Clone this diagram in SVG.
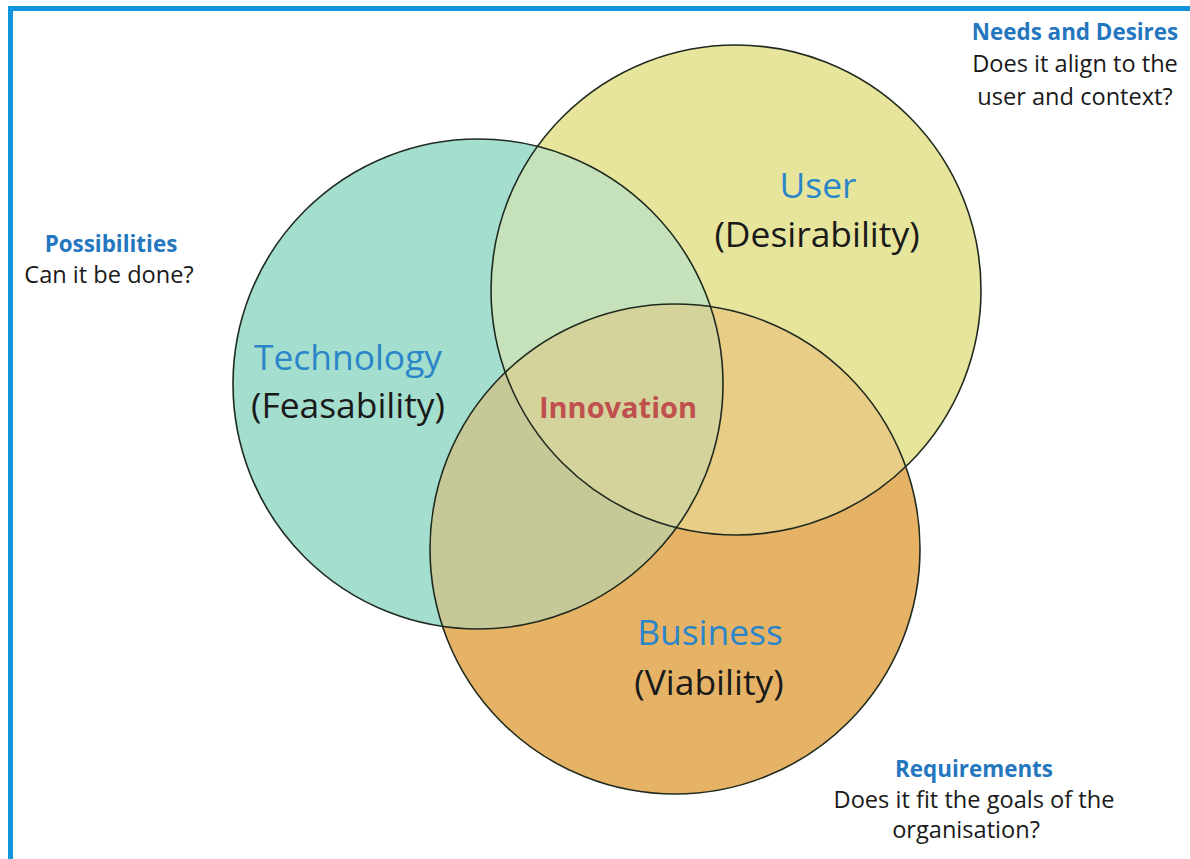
<svg xmlns="http://www.w3.org/2000/svg" width="1190" height="859" viewBox="0 0 1190 859">
  <style>
    .lbl { font-family: "Open Sans", "Liberation Sans", sans-serif; text-anchor: middle; }
    .head { font-size: 22.4px; font-weight: bold; fill: #2477bf; }
    .note { font-size: 23.6px; fill: #1a1a1a; }
    .title { font-size: 35.4px; fill: #2a86c8; }
    .sub { font-size: 35.4px; fill: #1a1a1a; }
    .core { font-size: 29px; font-weight: bold; fill: #c0504d; }
    .ring { fill: none; stroke: #1f2a1f; stroke-width: 1.6; }
  </style>
  <defs>
    <circle id="cT" cx="478" cy="384" r="245"/>
    <circle id="cU" cx="736" cy="290" r="245"/>
    <circle id="cB" cx="675" cy="549" r="245"/>
    <clipPath id="inT"><use href="#cT"/></clipPath>
    <clipPath id="inU"><use href="#cU"/></clipPath>
  </defs>

  <rect width="1190" height="859" fill="#ffffff"/>

  <!-- frame lines along top and left -->
  <rect x="8" y="6" width="1182" height="5" fill="#1094dc"/>
  <rect x="8" y="6" width="5" height="853" fill="#1094dc"/>

  <!-- region fills -->
  <g id="fills">
    <use href="#cT" fill="#a4decf"/>
    <use href="#cU" fill="#e7e59c"/>
    <use href="#cB" fill="#e6b366"/>
    <use href="#cU" fill="#c6e2bb" clip-path="url(#inT)"/>
    <use href="#cB" fill="#c7c898" clip-path="url(#inT)"/>
    <use href="#cB" fill="#e8cd86" clip-path="url(#inU)"/>
    <g clip-path="url(#inU)">
      <use href="#cB" fill="#d5d39c" clip-path="url(#inT)"/>
    </g>
  </g>

  <g id="technology">
    <use href="#cT" class="ring"/>
    <text class="lbl title" x="348" y="370">Technology</text>
    <text class="lbl sub" x="348" y="418">(Feasability)</text>
  </g>

  <g id="user">
    <use href="#cU" class="ring"/>
    <text class="lbl title" x="818" y="198">User</text>
    <text class="lbl sub" x="817" y="247">(Desirability)</text>
  </g>

  <g id="business">
    <use href="#cB" class="ring"/>
    <text class="lbl title" x="710" y="645">Business</text>
    <text class="lbl sub" x="709" y="695">(Viability)</text>
  </g>

  <g id="innovation">
    <text class="lbl core" x="618" y="418">Innovation</text>
  </g>

  <g id="possibilities">
    <text class="lbl head" x="111" y="252">Possibilities</text>
    <text class="lbl note" x="109" y="283">Can it be done?</text>
  </g>

  <g id="needs">
    <text class="lbl head" x="1075" y="40">Needs and Desires</text>
    <text class="lbl note" x="1075" y="72">Does it align to the</text>
    <text class="lbl note" x="1075" y="105">user and context?</text>
  </g>

  <g id="requirements">
    <text class="lbl head" x="974" y="777">Requirements</text>
    <text class="lbl note" x="974" y="808">Does it fit the goals of the</text>
    <text class="lbl note" x="966" y="838">organisation?</text>
  </g>
</svg>
